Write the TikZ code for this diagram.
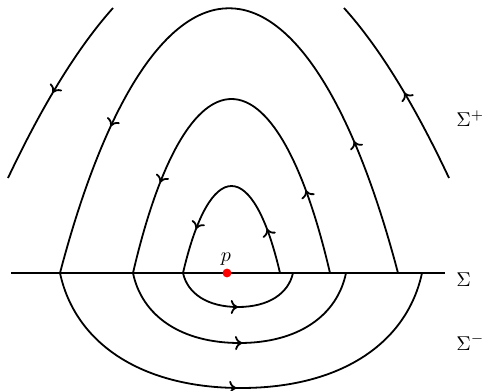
\documentclass[tikz,border=0pt]{standalone}
\usetikzlibrary{decorations.markings,arrows.meta}
\tikzset{
  orbit/.style={line width=0.9pt},
  flowtip/.tip={To[length=3.6pt,width=7pt]},
  arrowsat/.style 2 args={postaction={decorate,decoration={markings,
      mark=at position #1 with {\arrow{flowtip}},
      mark=at position #2 with {\arrow{flowtip}}}}},
  arrowat/.style={postaction={decorate,decoration={markings,
      mark=at position #1 with {\arrow{flowtip}}}}},
  lbl/.style={inner sep=0pt, anchor=base west},
}
\begin{document}
\begin{tikzpicture}[x=0.5pt,y=-0.5pt]
  \useasboundingbox (0,0) rectangle (488,391);
  % switching line
  \coordinate (S0) at (11,273);
  \coordinate (S1) at (445,273);
  \draw[orbit] (S0) -- (S1);
  % feet on Sigma
  \coordinate (oL) at (60,273);   \coordinate (oR) at (398,273);
  \coordinate (mL) at (133,273);  \coordinate (mR) at (330,273);
  \coordinate (iL) at (183,273);  \coordinate (iR) at (280,273);
  \coordinate (oR2) at (422,273);
  \coordinate (mR2) at (346,273);
  \coordinate (iR2) at (293,273);
  % upper arcs (Sigma^+)
  \draw[orbit, arrowsat={0.21}{0.765}] (oR) .. controls (305,-80) and (153,-80) .. (oL);
  \draw[orbit, arrowsat={0.205}{0.775}] (mR) .. controls (276,41) and (187,41) .. (mL);
  \draw[orbit, arrowsat={0.22}{0.78}] (iR) .. controls (253,157) and (210,157) .. (iL);
  % lower arcs (Sigma^-)
  \coordinate (iB) at (238,307);
  \coordinate (mB) at (239.5,343);
  \coordinate (oB) at (241,388);
  \draw[orbit, arrowat=0.5] (iL) .. controls (187.6,293.7) and (207.6,307) .. (iB)
        .. controls (268.4,307) and (288.4,293.7) .. (iR2);
  \draw[orbit, arrowat=0.51] (mL) .. controls (141.8,315.6) and (180.7,343) .. (mB)
        .. controls (298.3,343) and (337.2,315.6) .. (mR2);
  \draw[orbit, arrowat=0.49] (oL) .. controls (75,343) and (141,388) .. (oB)
        .. controls (341,388) and (407,343) .. (oR2);
  % far arcs
  \coordinate (fLt) at (113,8);  \coordinate (fLb) at (8,178);
  \coordinate (fRt) at (344,8);  \coordinate (fRb) at (449,178);
  \draw[orbit, arrowat=0.52] (fLt) .. controls (78.1,47) and (43.1,103.7) .. (fLb);
  \draw[orbit, arrowat=0.48] (fRb) .. controls (413.9,103.4) and (378.9,46.7) .. (fRt);
  % point p
  \node[circle, fill=red, inner sep=0pt, minimum size=4.4pt] (p) at (227,273) {};
  \node[inner sep=0pt, anchor=base] (plabel) at (226,261.5) {$p$};
  % labels
  \node[lbl] (Splus) at (456,126.7) {$\Sigma^{+}$};
  \node[lbl] (S) at (456,286.7) {$\Sigma$};
  \node[lbl] (Sminus) at (456,350) {$\Sigma^{-}$};
\end{tikzpicture}
\end{document}
